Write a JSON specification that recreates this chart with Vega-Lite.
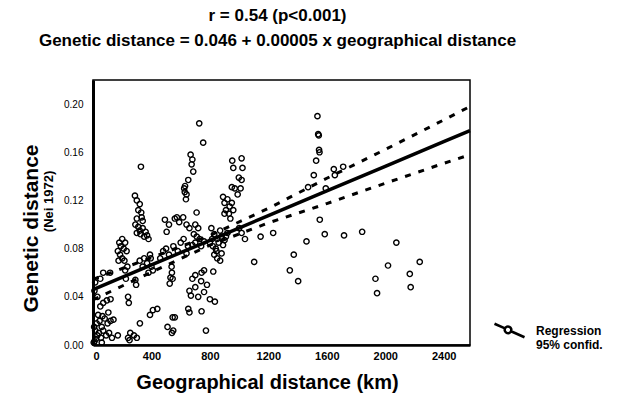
{
  "$schema": "https://vega.github.io/schema/vega-lite/v6.json",
  "autosize": {"type": "none"},
  "width": 377,
  "height": 265,
  "padding": {"left": 93, "top": 80, "right": 147, "bottom": 53},
  "background": "white",
  "title": {
    "text": ["r = 0.54 (p<0.001)", "Genetic distance = 0.046 + 0.00005 x geographical distance"],
    "anchor": "middle",
    "frame": "group",
    "dx": -4,
    "offset": 30,
    "lineHeight": 25,
    "font": "Liberation Sans",
    "fontSize": 17,
    "fontWeight": "bold",
    "color": "black"
  },
  "config": {
    "font": "Liberation Sans",
    "view": {"stroke": "black", "strokeWidth": 1.5},
    "axis": {"grid": false, "ticks": false, "labelColor": "black", "titleColor": "black", "labelFont": "Liberation Sans", "titleFont": "Liberation Sans"}
  },
  "datasets": {
    "points": [
      {"geo": 10, "gen": 0.003}, {"geo": 20, "gen": 0.005}, {"geo": 30, "gen": 0.008}, {"geo": 15, "gen": 0.012}, {"geo": 40, "gen": 0.010},
      {"geo": 55, "gen": 0.006}, {"geo": 70, "gen": 0.012}, {"geo": 90, "gen": 0.008}, {"geo": 110, "gen": 0.010}, {"geo": 130, "gen": 0.006},
      {"geo": 25, "gen": 0.018}, {"geo": 45, "gen": 0.020}, {"geo": 60, "gen": 0.015}, {"geo": 80, "gen": 0.022}, {"geo": 100, "gen": 0.018},
      {"geo": 120, "gen": 0.020}, {"geo": 140, "gen": 0.021}, {"geo": 35, "gen": 0.025}, {"geo": 65, "gen": 0.024}, {"geo": 105, "gen": 0.027},
      {"geo": 50, "gen": 0.032}, {"geo": 70, "gen": 0.035}, {"geo": 95, "gen": 0.037}, {"geo": 120, "gen": 0.038}, {"geo": 30, "gen": 0.040},
      {"geo": 10, "gen": 0.045}, {"geo": 15, "gen": 0.052}, {"geo": 5, "gen": 0.002}, {"geo": 8, "gen": 0.015}, {"geo": 60, "gen": 0.002},
      {"geo": 170, "gen": 0.008}, {"geo": 240, "gen": 0.006}, {"geo": 255, "gen": 0.010}, {"geo": 280, "gen": 0.008}, {"geo": 300, "gen": 0.006},
      {"geo": 250, "gen": 0.004}, {"geo": 321, "gen": 0.018}, {"geo": 240, "gen": 0.040}, {"geo": 245, "gen": 0.035}, {"geo": 390, "gen": 0.025},
      {"geo": 410, "gen": 0.029}, {"geo": 440, "gen": 0.030}, {"geo": 510, "gen": 0.015}, {"geo": 540, "gen": 0.010}, {"geo": 545, "gen": 0.023},
      {"geo": 549, "gen": 0.012}, {"geo": 560, "gen": 0.023}, {"geo": 652, "gen": 0.030}, {"geo": 660, "gen": 0.027}, {"geo": 743, "gen": 0.028},
      {"geo": 773, "gen": 0.012}, {"geo": 834, "gen": 0.036},
      {"geo": 530, "gen": 0.056}, {"geo": 525, "gen": 0.051}, {"geo": 540, "gen": 0.060}, {"geo": 538, "gen": 0.065}, {"geo": 545, "gen": 0.055},
      {"geo": 660, "gen": 0.045}, {"geo": 670, "gen": 0.041}, {"geo": 700, "gen": 0.048}, {"geo": 720, "gen": 0.040}, {"geo": 740, "gen": 0.053},
      {"geo": 760, "gen": 0.044}, {"geo": 780, "gen": 0.050}, {"geo": 800, "gen": 0.038}, {"geo": 743, "gen": 0.060}, {"geo": 760, "gen": 0.062},
      {"geo": 823, "gen": 0.061}, {"geo": 700, "gen": 0.058}, {"geo": 680, "gen": 0.055},
      {"geo": 170, "gen": 0.078}, {"geo": 180, "gen": 0.085}, {"geo": 190, "gen": 0.082}, {"geo": 200, "gen": 0.088}, {"geo": 210, "gen": 0.080},
      {"geo": 220, "gen": 0.085}, {"geo": 185, "gen": 0.075}, {"geo": 230, "gen": 0.078}, {"geo": 200, "gen": 0.072}, {"geo": 215, "gen": 0.070},
      {"geo": 175, "gen": 0.070}, {"geo": 235, "gen": 0.065}, {"geo": 220, "gen": 0.062}, {"geo": 225, "gen": 0.055}, {"geo": 70, "gen": 0.060},
      {"geo": 117, "gen": 0.060}, {"geo": 50, "gen": 0.055},
      {"geo": 287, "gen": 0.124}, {"geo": 300, "gen": 0.120}, {"geo": 320, "gen": 0.117}, {"geo": 310, "gen": 0.112}, {"geo": 330, "gen": 0.110},
      {"geo": 300, "gen": 0.105}, {"geo": 340, "gen": 0.103}, {"geo": 333, "gen": 0.106}, {"geo": 290, "gen": 0.100}, {"geo": 310, "gen": 0.098},
      {"geo": 320, "gen": 0.095}, {"geo": 340, "gen": 0.097}, {"geo": 360, "gen": 0.094}, {"geo": 370, "gen": 0.091}, {"geo": 350, "gen": 0.090},
      {"geo": 325, "gen": 0.092}, {"geo": 300, "gen": 0.093}, {"geo": 380, "gen": 0.088}, {"geo": 328, "gen": 0.148},
      {"geo": 320, "gen": 0.070}, {"geo": 350, "gen": 0.072}, {"geo": 370, "gen": 0.068}, {"geo": 390, "gen": 0.075}, {"geo": 395, "gen": 0.072},
      {"geo": 340, "gen": 0.065}, {"geo": 380, "gen": 0.060}, {"geo": 410, "gen": 0.062}, {"geo": 290, "gen": 0.054}, {"geo": 295, "gen": 0.050},
      {"geo": 400, "gen": 0.065},
      {"geo": 460, "gen": 0.072}, {"geo": 480, "gen": 0.078}, {"geo": 500, "gen": 0.080}, {"geo": 520, "gen": 0.075}, {"geo": 550, "gen": 0.082},
      {"geo": 492, "gen": 0.104}, {"geo": 504, "gen": 0.094}, {"geo": 520, "gen": 0.100}, {"geo": 574, "gen": 0.106}, {"geo": 590, "gen": 0.102},
      {"geo": 617, "gen": 0.106}, {"geo": 640, "gen": 0.100}, {"geo": 660, "gen": 0.097}, {"geo": 560, "gen": 0.105}, {"geo": 600, "gen": 0.085},
      {"geo": 620, "gen": 0.088}, {"geo": 650, "gen": 0.082}, {"geo": 580, "gen": 0.078}, {"geo": 640, "gen": 0.076},
      {"geo": 727, "gen": 0.184}, {"geo": 754, "gen": 0.168}, {"geo": 668, "gen": 0.158}, {"geo": 680, "gen": 0.154}, {"geo": 675, "gen": 0.150},
      {"geo": 686, "gen": 0.144}, {"geo": 652, "gen": 0.137}, {"geo": 624, "gen": 0.130}, {"geo": 628, "gen": 0.127}, {"geo": 636, "gen": 0.121},
      {"geo": 640, "gen": 0.125}, {"geo": 630, "gen": 0.132},
      {"geo": 709, "gen": 0.110}, {"geo": 700, "gen": 0.100}, {"geo": 720, "gen": 0.097}, {"geo": 690, "gen": 0.092}, {"geo": 710, "gen": 0.090},
      {"geo": 730, "gen": 0.088}, {"geo": 700, "gen": 0.085}, {"geo": 680, "gen": 0.083}, {"geo": 740, "gen": 0.082}, {"geo": 760, "gen": 0.086},
      {"geo": 810, "gen": 0.097}, {"geo": 830, "gen": 0.092}, {"geo": 850, "gen": 0.088}, {"geo": 870, "gen": 0.095}, {"geo": 880, "gen": 0.090},
      {"geo": 800, "gen": 0.085}, {"geo": 820, "gen": 0.082}, {"geo": 840, "gen": 0.080}, {"geo": 860, "gen": 0.085}, {"geo": 890, "gen": 0.083},
      {"geo": 900, "gen": 0.087}, {"geo": 830, "gen": 0.075}, {"geo": 850, "gen": 0.072}, {"geo": 870, "gen": 0.070}, {"geo": 845, "gen": 0.078},
      {"geo": 880, "gen": 0.076}, {"geo": 910, "gen": 0.090}, {"geo": 920, "gen": 0.093}, {"geo": 815, "gen": 0.088},
      {"geo": 953, "gen": 0.153}, {"geo": 1017, "gen": 0.155}, {"geo": 960, "gen": 0.147}, {"geo": 1023, "gen": 0.147}, {"geo": 998, "gen": 0.139},
      {"geo": 1017, "gen": 0.137}, {"geo": 1010, "gen": 0.130}, {"geo": 950, "gen": 0.131}, {"geo": 970, "gen": 0.130}, {"geo": 990, "gen": 0.125},
      {"geo": 890, "gen": 0.123}, {"geo": 900, "gen": 0.118}, {"geo": 920, "gen": 0.121}, {"geo": 935, "gen": 0.115}, {"geo": 900, "gen": 0.109},
      {"geo": 930, "gen": 0.109}, {"geo": 910, "gen": 0.112}, {"geo": 950, "gen": 0.118}, {"geo": 960, "gen": 0.112}, {"geo": 940, "gen": 0.105},
      {"geo": 1017, "gen": 0.093}, {"geo": 1000, "gen": 0.097}, {"geo": 1147, "gen": 0.090}, {"geo": 1233, "gen": 0.093}, {"geo": 1103, "gen": 0.069},
      {"geo": 1040, "gen": 0.088},
      {"geo": 1347, "gen": 0.062}, {"geo": 1374, "gen": 0.075}, {"geo": 1404, "gen": 0.053}, {"geo": 1461, "gen": 0.086}, {"geo": 1472, "gen": 0.131},
      {"geo": 1511, "gen": 0.141}, {"geo": 1527, "gen": 0.153}, {"geo": 1536, "gen": 0.190}, {"geo": 1541, "gen": 0.175}, {"geo": 1545, "gen": 0.174},
      {"geo": 1547, "gen": 0.162}, {"geo": 1550, "gen": 0.160}, {"geo": 1552, "gen": 0.104}, {"geo": 1586, "gen": 0.092}, {"geo": 1593, "gen": 0.130},
      {"geo": 1648, "gen": 0.146}, {"geo": 1655, "gen": 0.141}, {"geo": 1712, "gen": 0.148}, {"geo": 1718, "gen": 0.091}, {"geo": 1842, "gen": 0.094},
      {"geo": 1933, "gen": 0.055}, {"geo": 1944, "gen": 0.043}, {"geo": 2019, "gen": 0.066}, {"geo": 2076, "gen": 0.085}, {"geo": 2168, "gen": 0.059},
      {"geo": 2174, "gen": 0.048}, {"geo": 2236, "gen": 0.069}
    ],
    "fit": [
      {"geo": 0, "fit": 0.046, "up": 0.0545, "lo": 0.0375, "series": "Regression"},
      {"geo": 400, "fit": 0.0665, "up": 0.0725, "lo": 0.0605, "series": "Regression"},
      {"geo": 800, "fit": 0.0869, "up": 0.0909, "lo": 0.0829, "series": "Regression"},
      {"geo": 1200, "fit": 0.1074, "up": 0.1134, "lo": 0.1014, "series": "Regression"},
      {"geo": 1600, "fit": 0.1279, "up": 0.1384, "lo": 0.1174, "series": "Regression"},
      {"geo": 2000, "fit": 0.1483, "up": 0.1623, "lo": 0.1343, "series": "Regression"},
      {"geo": 2400, "fit": 0.1688, "up": 0.1868, "lo": 0.1508, "series": "Regression"},
      {"geo": 2580, "fit": 0.178, "up": 0.198, "lo": 0.158, "series": "Regression"}
    ]
  },
  "resolve": {"axis": {"y": "independent"}},
  "layer": [
    {
      "data": {"name": "points"},
      "mark": {"type": "point", "shape": "circle", "filled": false, "stroke": "black", "strokeWidth": 1.4, "size": 28, "opacity": 1},
      "encoding": {
        "x": {"field": "geo", "type": "quantitative",
          "scale": {"domain": [0, 2580], "nice": false, "zero": false},
          "axis": {"values": [0, 400, 800, 1200, 1600, 2000, 2400], "format": "d", "title": "Geographical distance (km)",
            "labelFontSize": 11, "labelFontWeight": "bold", "labelPadding": 5, "domainColor": "black", "domainWidth": 2.5,
            "titleFontSize": 20, "titleFontWeight": "bold", "titleX": 174, "titleY": 27, "titleBaseline": "top", "titleAlign": "center"}},
        "y": {"field": "gen", "type": "quantitative",
          "scale": {"domain": [0, 0.22], "nice": false, "zero": false},
          "axis": {"orient": "left", "values": [0, 0.04, 0.08, 0.12, 0.16, 0.2], "format": ".2f", "title": "(Nei 1972)",
            "labelFontSize": 10, "labelPadding": 10, "domainColor": "black", "domainWidth": 3,
            "titleFontSize": 13, "titleFontWeight": "bold", "titleX": -45, "titleY": 121, "titleBaseline": "middle", "titleAlign": "center", "titleAngle": -90}}
      }
    },
    {
      "data": {"name": "fit"},
      "mark": {"type": "line", "strokeWidth": 3.5},
      "encoding": {
        "x": {"field": "geo", "type": "quantitative", "scale": {"domain": [0, 2580], "nice": false, "zero": false}},
        "y": {"field": "fit", "type": "quantitative",
          "scale": {"domain": [0, 0.22], "nice": false, "zero": false},
          "axis": {"orient": "left", "labels": false, "domain": false, "ticks": false, "title": "Genetic distance",
            "titleFontSize": 21, "titleFontWeight": "bold", "titleX": -62, "titleY": 148, "titleBaseline": "middle", "titleAlign": "center", "titleAngle": -90}},
        "color": {"field": "series", "type": "nominal", "scale": {"range": ["black"]},
          "legend": {"orient": "none", "legendX": 400, "legendY": 234, "title": null, "padding": 0,
            "symbolType": "M-1,-0.45L-0.3,-0.14M0.1,0.05L1,0.45M0.1,0.05A0.2,0.2 0 1,1 -0.3,-0.14A0.2,0.2 0 1,1 0.1,0.05",
            "symbolSize": 900, "symbolStrokeWidth": 2.5, "symbolStrokeColor": "black", "symbolFillColor": "white",
            "labelExpr": "['Regression', '95% confid.']", "labelFontSize": 12, "labelFontWeight": "bold", "labelColor": "black",
            "labelOffset": 10, "labelLimit": 200, "labelLineHeight": 13}}
      }
    },
    {
      "data": {"name": "fit"},
      "mark": {"type": "line", "strokeWidth": 3, "strokeDash": [6, 8], "color": "black"},
      "encoding": {
        "x": {"field": "geo", "type": "quantitative", "scale": {"domain": [0, 2580], "nice": false, "zero": false}},
        "y": {"field": "up", "type": "quantitative", "scale": {"domain": [0, 0.22], "nice": false, "zero": false}, "axis": null}
      }
    },
    {
      "data": {"name": "fit"},
      "mark": {"type": "line", "strokeWidth": 3, "strokeDash": [6, 8], "color": "black"},
      "encoding": {
        "x": {"field": "geo", "type": "quantitative", "scale": {"domain": [0, 2580], "nice": false, "zero": false}},
        "y": {"field": "lo", "type": "quantitative", "scale": {"domain": [0, 0.22], "nice": false, "zero": false}, "axis": null}
      }
    }
  ]
}
